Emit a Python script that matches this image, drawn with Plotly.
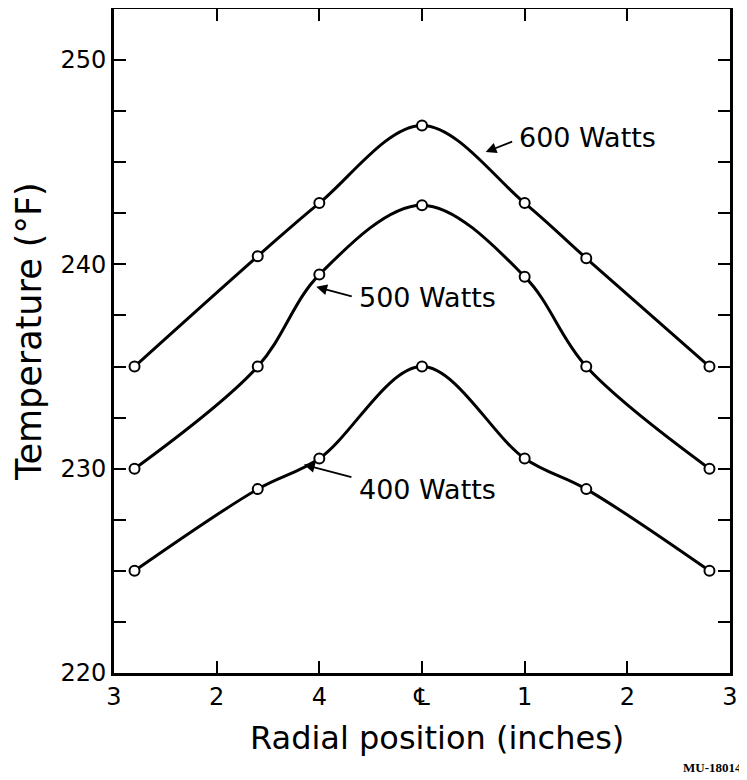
import plotly.graph_objects as go

# Data
radial_pos = [-2.8, -1.6, -1.0, 0.0, 1.0, 1.6, 2.8]
temp_600 = [235.0, 240.4, 243.0, 246.8, 243.0, 240.3, 235.0]
temp_500 = [230.0, 235.0, 239.5, 242.9, 239.4, 235.0, 230.0]
temp_400 = [225.0, 229.0, 230.5, 235.0, 230.5, 229.0, 225.0]

x_tickvals = [-3, -2, -1, 0, 1, 2, 3]
x_ticktext = ["3", "2", "4", "\u2104", "1", "2", "3"]
y_tickvals = [220, 222.5, 225, 227.5, 230, 232.5, 235, 237.5, 240, 242.5, 245, 247.5, 250]
y_ticktext = ["220", "", "", "", "230", "", "", "", "240", "", "", "", "250"]

series = [("600 Watts", temp_600), ("500 Watts", temp_500), ("400 Watts", temp_400)]

FONT = "DejaVu Sans"

fig = go.Figure()
for name, ys in series:
    fig.add_trace(go.Scatter(
        x=radial_pos, y=ys, name=name, mode="lines+markers",
        line=dict(color="black", width=3, shape="spline", smoothing=1.0),
        marker=dict(symbol="circle", size=10, color="white",
                    line=dict(color="black", width=2)),
        showlegend=False,
    ))

axis_common = dict(
    showline=True, linecolor="black", linewidth=3, mirror="ticks",
    ticks="inside", ticklen=12, tickwidth=2, tickcolor="black",
    showgrid=False, zeroline=False, automargin=False,
    tickfont=dict(family=FONT, size=24, color="black"),
)

fig.update_xaxes(range=[-3, 3], tickmode="array", tickvals=x_tickvals,
                 ticktext=x_ticktext, ticklabelstandoff=0, **axis_common)
fig.update_yaxes(range=[220, 252.5], tickmode="array", tickvals=y_tickvals,
                 ticktext=y_ticktext, ticklabelstandoff=0, **axis_common)

# Axis titles (placed as paper annotations)
fig.add_annotation(xref="paper", yref="paper", x=-0.138, y=0.515,
                   text="Temperature (°F)", textangle=-90, showarrow=False,
                   xanchor="center", yanchor="middle",
                   font=dict(family=FONT, size=35, color="black"))
fig.add_annotation(xref="paper", yref="paper", x=0.524, y=-0.098,
                   text="Radial position (inches)", showarrow=False,
                   xanchor="center", yanchor="middle",
                   font=dict(family=FONT, size=32, color="black"))

# Curve labels with arrows
labels = [
    # text, tip x, tip y, text x, text y, arrow ax, ay
    ("600 Watts", 0.62, 245.5, 0.93, 246.2, 28, -11),
    ("500 Watts", -1.03, 238.9, -0.63, 238.4, 37, 10),
    ("400 Watts", -1.15, 230.2, -0.63, 229.0, 49, 13),
]
for text, tx, ty, lx, ly, ax, ay in labels:
    fig.add_annotation(x=tx, y=ty, ax=ax, ay=ay, text="", showarrow=True,
                       arrowhead=2, arrowsize=1.2, arrowwidth=1.8,
                       arrowcolor="black", axref="pixel", ayref="pixel")
    fig.add_annotation(x=lx, y=ly, text=text, showarrow=False, xanchor="left",
                       yanchor="middle",
                       font=dict(family=FONT, size=27, color="black"))

fig.add_annotation(xref="paper", yref="paper", x=1.022, y=-0.143,
                   xanchor="right", yanchor="middle", text="<b>MU-18014</b>",
                   showarrow=False,
                   font=dict(family="Liberation Serif", size=13, color="black"))

# The page body adds an 8px offset, so the figure is sized to fill the window.
fig.update_layout(
    width=739, height=772,
    margin=dict(l=106, r=17, t=1, b=107, autoexpand=False),
    paper_bgcolor="white", plot_bgcolor="white",
)

fig.write_html("out.html")
